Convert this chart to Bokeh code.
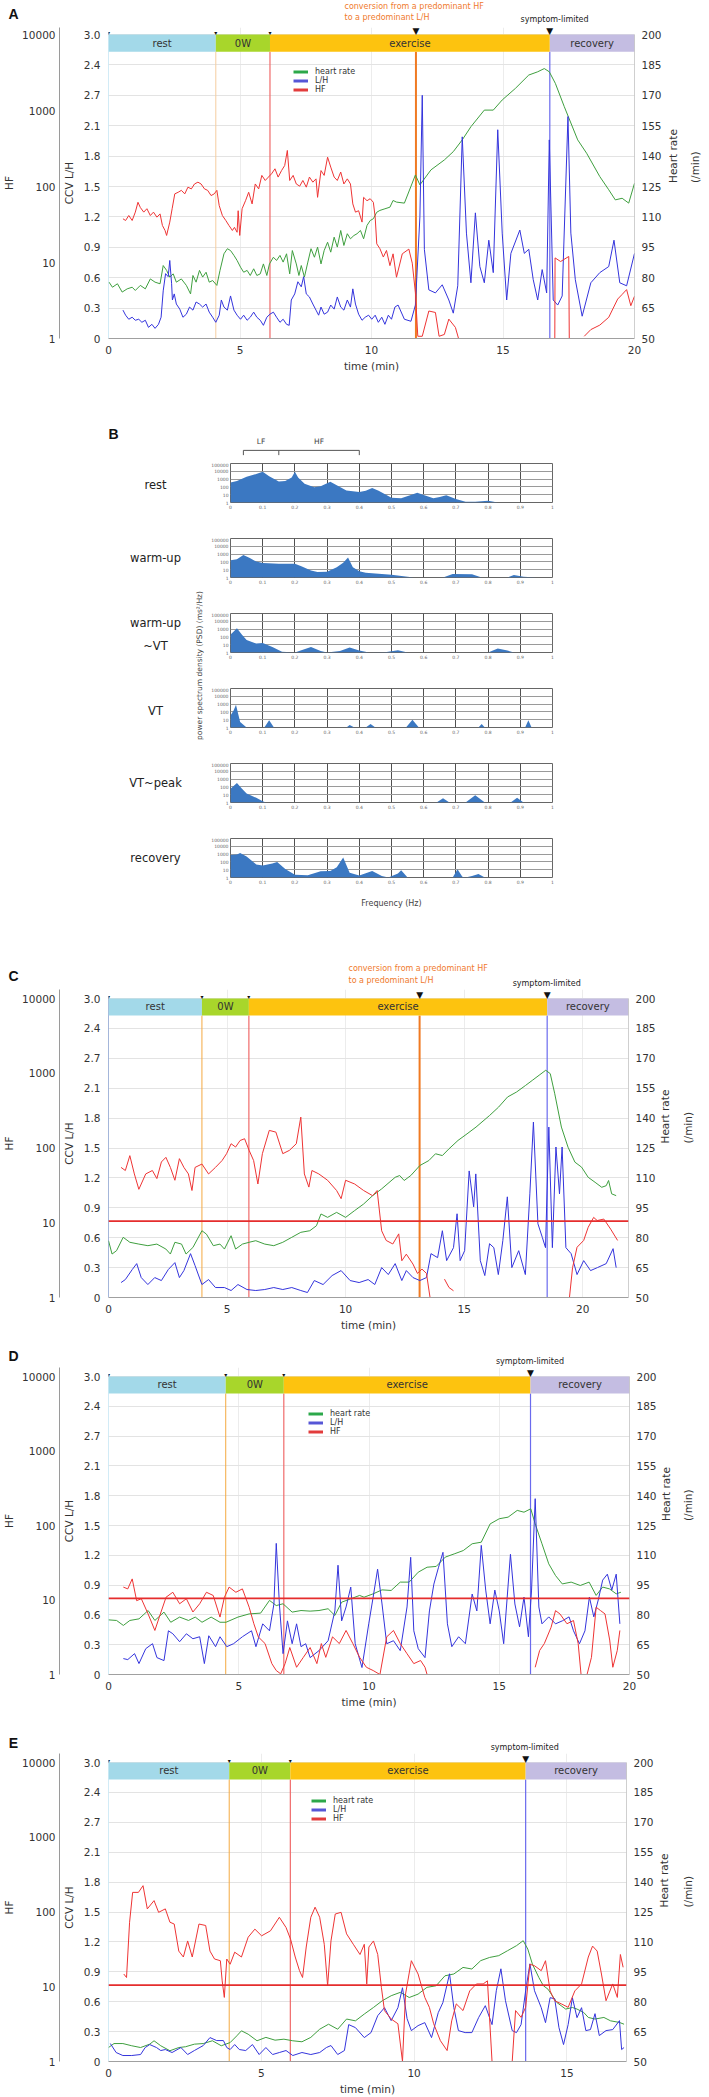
import numpy as np
from bokeh.plotting import figure
from bokeh.models import (Range1d, LinearAxis, LogAxis, LogScale, FixedTicker, Label,
                          Legend, LegendItem, Span)
from bokeh.layouts import column, row
from bokeh.embed import file_html
from bokeh.resources import INLINE
from bokeh.core.properties import value

FONT = "DejaVu Sans"
PAGE_W = 709

# ------------------------------------------------------------------ data
phase_names = ["rest", "0W", "exercise", "recovery"]
phase_colors = ["#a3d9e9", "#a8d62b", "#fdc30f", "#c4bde2"]

ccv_ticks = [0, 0.3, 0.6, 0.9, 1.2, 1.5, 1.8, 2.1, 2.4, 2.7, 3.0]
ccv_labels = ["0", "0.3", "0.6", "0.9", "1.2", "1.5", "1.8", "2.1", "2.7", "2.4", "3.0"]
hf_ticks = [1, 10, 100, 1000, 10000]
hf_labels = ["1", "10", "100", "1000", "10000"]
hr_ticks = [50, 65, 80, 95, 110, 125, 140, 155, 170, 185, 200]
hf_threshold = 10.5

# Panel A
A_edges = [0, 4.08, 6.14, 16.78, 20.0]
A_conversion = 11.69
A_hr = [(0.02,77.8),(0.15,75.3),(0.34,77.0),(0.52,72.9),(0.71,74.5),(0.90,75.3),(1.02,73.7),(1.21,76.2),
        (1.40,74.5),(1.59,79.4),(1.77,77.8),(1.96,77.0),(2.08,86.0),(2.21,83.6),(2.33,80.3),(2.46,81.9),
        (2.58,77.8),(2.77,79.4),(2.96,76.2),(3.12,72.0),(3.21,81.1),(3.33,77.8),(3.46,83.6),(3.58,80.3),
        (3.71,82.7),(3.83,77.8),(3.96,78.6),(4.12,76.2),(4.24,83.6),(4.39,91.8),(4.52,94.3),(4.64,93.4),
        (4.77,91.0),(4.89,88.5),(5.02,85.2),(5.14,82.7),(5.27,83.6),(5.39,81.1),(5.52,84.4),(5.64,81.1),
        (5.77,81.9),(5.89,86.8),(6.02,81.1),(6.12,86.8),(6.27,90.1),(6.39,88.5),(6.52,91.0),(6.64,87.7),
        (6.77,91.8),(6.89,81.9),(6.99,93.4),(7.14,86.8),(7.24,81.1),(7.33,86.0),(7.45,80.3),(7.58,87.7),
        (7.70,94.3),(7.83,90.1),(7.95,95.1),(8.08,86.8),(8.20,93.4),(8.33,97.5),(8.45,92.6),(8.58,100.0),
        (8.70,95.1),(8.83,103.3),(8.95,95.9),(9.08,101.7),(9.20,99.2),(9.33,100.8),(9.45,101.7),
        (9.58,103.3),(9.70,99.2),(9.83,105.8),(9.95,108.2),(10.07,109.1),(10.20,112.3),(10.32,113.2),
        (10.51,114.0),(10.70,114.8),(10.82,118.1),(10.95,117.3),(11.25,116.8),(11.67,130.7),(11.84,125.8),
        (12.26,133.2),(12.77,138.1),(13.11,142.2),(13.45,148.0),(13.78,154.5),(14.29,162.7),(14.63,162.7),
        (14.97,167.7),(15.47,173.4),(15.98,180.0),(16.32,181.6),(16.57,183.2),(16.76,181.6),(16.99,175.9),
        (17.33,164.4),(17.84,148.0),(18.18,141.4),(18.68,129.9),(19.02,123.4),(19.27,118.4),(19.53,119.2),
        (19.78,116.8),(20.00,126.6)]
A_lh = [(0.55,0.28),(0.65,0.23),(0.77,0.19),(0.90,0.21),(1.02,0.18),(1.15,0.19),(1.27,0.16),(1.40,0.18),
        (1.52,0.11),(1.65,0.14),(1.77,0.10),(1.90,0.14),(2.00,0.21),(2.08,0.47),(2.17,0.64),(2.27,0.61),
        (2.33,0.77),(2.40,0.54),(2.43,0.38),(2.50,0.44),(2.58,0.34),(2.71,0.29),(2.83,0.21),(2.96,0.24),
        (3.08,0.31),(3.21,0.28),(3.33,0.36),(3.46,0.34),(3.58,0.31),(3.71,0.34),(3.83,0.26),(3.96,0.21),
        (4.08,0.16),(4.21,0.23),(4.29,0.38),(4.39,0.31),(4.52,0.28),(4.64,0.42),(4.77,0.28),(4.89,0.23),
        (5.02,0.19),(5.14,0.23),(5.27,0.18),(5.39,0.21),(5.52,0.26),(5.64,0.21),(5.77,0.18),(5.89,0.13),
        (6.02,0.21),(6.14,0.24),(6.27,0.26),(6.39,0.21),(6.52,0.16),(6.64,0.19),(6.77,0.14),(6.87,0.13),
        (6.95,0.38),(7.08,0.44),(7.20,0.56),(7.33,0.51),(7.42,0.61),(7.52,0.44),(7.64,0.41),(7.77,0.34),
        (7.89,0.28),(7.99,0.23),(8.08,0.31),(8.20,0.24),(8.33,0.26),(8.45,0.33),(8.58,0.29),(8.70,0.41),
        (8.83,0.31),(8.95,0.28),(9.08,0.38),(9.20,0.31),(9.29,0.49),(9.39,0.34),(9.51,0.24),(9.64,0.18),
        (9.76,0.21),(9.89,0.23),(10.01,0.19),(10.14,0.23),(10.26,0.16),(10.39,0.21),(10.51,0.14),
        (10.64,0.23),(10.76,0.19),(10.89,0.31),(11.01,0.33),(11.25,0.19),(11.50,0.17),(11.67,0.33),
        (11.84,1.20),(11.93,2.40),(12.01,0.88),(12.18,0.48),(12.43,0.45),(12.69,0.53),(12.94,0.38),
        (13.11,0.25),(13.28,0.52),(13.45,1.99),(13.61,1.04),(13.78,0.55),(13.95,1.24),(14.12,0.71),
        (14.29,0.55),(14.46,0.97),(14.63,0.65),(14.80,2.06),(14.97,1.04),(15.14,0.38),(15.30,0.84),
        (15.64,1.07),(15.81,0.84),(15.98,0.88),(16.15,0.58),(16.32,0.38),(16.49,0.68),(16.66,0.45),
        (16.76,1.96),(16.91,0.38),(17.08,0.33),(17.25,0.42),(17.47,2.19),(17.58,1.04),(17.75,0.58),
        (18.01,0.22),(18.34,0.55),(18.68,0.65),(19.02,0.71),(19.22,0.97),(19.44,0.55),(19.70,0.52),
        (20.00,0.84)]
A_hf = [(0.55,37.6),(0.65,35.7),(0.77,41.5),(0.90,35.7),(1.02,46),(1.12,62),(1.21,53),(1.34,46),(1.46,51),
        (1.59,41.5),(1.71,46),(1.84,39.5),(1.96,43.6),(2.05,30.7),(2.15,26.4),(2.21,22.7),(2.33,34),(2.42,51),
        (2.52,80),(2.65,84),(2.77,89),(2.90,80),(3.02,98),(3.15,93),(3.27,108),(3.40,114),(3.52,108),
        (3.65,93),(3.77,89),(3.90,76),(4.02,80),(4.12,89),(4.21,56),(4.33,41.5),(4.46,35.7),(4.58,30.7),
        (4.71,26.4),(4.79,29),(4.89,25),(4.93,48),(4.99,22.7),(5.08,51),(5.21,65),(5.33,84),(5.46,59),
        (5.58,108),(5.71,93),(5.83,140),(5.96,120),(6.08,133),(6.20,147),(6.33,171),(6.45,133),(6.58,162),
        (6.70,189),(6.80,298),(6.89,120),(7.02,140),(7.14,108),(7.27,101),(7.39,120),(7.52,98),(7.64,133),
        (7.77,114),(7.89,126),(7.95,72),(8.08,162),(8.20,140),(8.33,243),(8.45,180),(8.58,133),(8.70,120),
        (8.83,155),(8.95,108),(9.08,126),(9.20,108),(9.29,59),(9.39,46),(9.51,48),(9.64,34),(9.70,72),
        (9.83,65),(9.95,69),(10.07,62),(10.14,39.5),(10.20,17.6),(10.32,15.2),(10.45,11.8),(10.57,14.4),
        (10.70,9.1),(10.82,13),(10.95,6.4),(11.17,13),(11.42,15),(11.55,9.8),(11.67,4.0),
        (11.76,1.07),(11.93,1.07),(12.18,2.3),(12.43,2.2),(12.57,1.07),(12.77,1.13),(12.94,1.8),
        (13.19,1.4),(13.31,1.0),(13.4,None),(16.97,1.0),(16.98,11.5),(17.19,10.3),(17.50,12),
        (17.52,1.0),(17.8,None),(18.09,1.07),(18.34,1.31),(18.68,1.5),(19.02,1.9),(19.36,3.3),
        (19.53,3.8),(19.70,4.4),(19.86,2.7),(20.00,3.6)]

# Panel B : power spectra (frequency Hz, PSD ms^2/Hz)
lf_band = [0.04, 0.15]
hf_band = [0.15, 0.40]
spec_rest = [(0,355),(0.02,560),(0.05,2000),(0.08,4500),(0.1,8700),(0.12,2240),(0.15,500),(0.17,560),
             (0.19,1580),(0.2,8700),(0.21,1580),(0.23,250),(0.26,90),(0.28,125),(0.31,450),(0.33,160),
             (0.36,35),(0.40,22),(0.42,32),(0.44,70),(0.46,32),(0.5,4),(0.53,3.5),(0.56,9),(0.58,18),
             (0.6,9),(0.63,3.5),(0.65,5),(0.67,8.5),(0.7,2.8),(0.73,1.25),(0.76,1.25),(0.8,1.7),(0.83,1)]
spec_warm = [(0,160),(0.02,220),(0.04,740),(0.06,320),(0.08,110),(0.1,70),(0.15,58),(0.2,56),(0.22,28),
             (0.25,8),(0.27,5),(0.3,5.6),(0.33,20),(0.35,80),(0.365,355),(0.38,20),(0.4,6.3),(0.42,4),
             (0.5,2.3),(0.55,1.25),(0.57,1),(0.66,1),(0.69,2.9),(0.75,2.6),(0.78,1),(0.86,1),(0.88,2.1),
             (0.91,1.25),(0.95,1)]
spec_warm_vt = [(0,200),(0.01,500),(0.02,1260),(0.035,200),(0.05,40),(0.08,14),(0.1,16),(0.13,5),
                (0.16,1.25),(0.2,1),(0.22,2),(0.25,5),(0.28,1.6),(0.3,1),(0.34,1.6),(0.37,4.5),(0.4,1.8),
                (0.43,1),(0.48,1.1),(0.52,1.9),(0.55,1),(0.8,1),(0.83,3.2),(0.86,1.8),(0.88,1)]
spec_vt = [(0,34),(0.01,160),(0.017,800),(0.03,5),(0.05,1),(0.105,1),(0.12,8.5),(0.135,1),(0.36,1),
           (0.37,2.1),(0.385,1),(0.42,1),(0.435,2.9),(0.45,1),(0.545,1),(0.565,10),(0.585,1),(0.77,1),
           (0.78,2.9),(0.79,1),(0.915,1),(0.925,8.5),(0.935,1),(1.0,1)]
spec_vt_peak = [(0,58),(0.02,320),(0.035,63),(0.05,14),(0.08,4),(0.1,1.4),(0.11,1),(0.64,1),(0.66,3.6),
                (0.68,1),(0.73,1),(0.76,8.5),(0.79,1),(0.87,1),(0.89,4),(0.91,1)]
spec_recovery = [(0,740),(0.02,890),(0.03,1400),(0.05,500),(0.08,47),(0.1,35),(0.13,63),(0.145,98),
                 (0.17,12.6),(0.2,2.3),(0.24,2),(0.28,6.3),(0.31,7),(0.33,20),(0.35,355),(0.37,4),
                 (0.4,1.8),(0.44,6.8),(0.47,1.6),(0.49,1),(0.52,3.2),(0.53,8.5),(0.55,1),(0.69,1),
                 (0.705,11.5),(0.72,1.25),(0.73,1),(0.75,1.6),(0.77,2.9),(0.79,1)]
spec_labels = [["rest"], ["warm-up"], ["warm-up", "~VT"], ["VT"], ["VT~peak"], ["recovery"]]
freq_ticks = [0, 0.1, 0.2, 0.3, 0.4, 0.5, 0.6, 0.7, 0.8, 0.9, 1.0]
freq_labels = ["0", "0.1", "0.2", "0.3", "0.4", "0.5", "0.6", "0.7", "0.8", "0.9", "1"]
psd_ticks = [1, 10, 100, 1000, 10000, 100000]
psd_labels = ["1", "10", "100", "1000", "10000", "100000"]

# Panel C
C_edges = [0, 3.94, 5.92, 18.5, 21.93]
C_conversion = 13.12
C_hr = [(0.00,78.5),(0.15,71.8),(0.34,73.5),(0.62,80.2),(0.90,77.7),(1.28,76.8),(1.66,76.0),(2.04,76.8),
        (2.42,74.3),(2.61,71.8),(2.80,77.7),(3.08,76.8),(3.27,71.8),(3.56,75.1),(3.94,83.5),(4.13,81.8),
        (4.42,76.0),(4.70,76.8),(4.89,74.3),(5.17,81.0),(5.36,74.3),(5.65,76.8),(5.93,77.7),(6.21,78.5),
        (6.59,76.8),(6.97,76.0),(7.35,77.7),(7.73,80.2),(8.11,82.7),(8.49,83.5),(8.77,86.0),(8.96,91.9),
        (9.24,90.2),(9.62,92.7),(10.00,90.2),(10.38,93.6),(10.76,96.9),(11.14,101.1),(11.52,104.5),
        (12.09,110.3),(12.28,111.2),(12.47,108.7),(12.75,111.2),(13.13,116.2),(13.51,118.7),(13.79,122.1),
        (14.08,121.2),(14.36,124.6),(14.74,128.8),(15.12,132.1),(15.50,135.5),(16.07,141.3),(16.45,145.5),
        (16.83,150.6),(17.21,153.1),(17.59,156.4),(17.87,158.9),(18.16,161.5),(18.44,164.0),(18.63,162.3),
        (18.82,152.2),(19.10,135.5),(19.38,125.4),(19.67,117.9),(19.95,115.4),(20.23,110.3),(20.52,107.8),
        (20.80,105.3),(20.99,106.1),(21.09,108.7),(21.22,102.0),(21.41,101.1)]
C_lh = [(0.53,0.15),(0.71,0.18),(1.00,0.28),(1.19,0.34),(1.38,0.20),(1.66,0.13),(1.95,0.20),(2.23,0.17),
        (2.52,0.28),(2.80,0.35),(2.99,0.20),(3.18,0.27),(3.46,0.44),(3.65,0.32),(3.94,0.13),(4.22,0.18),
        (4.51,0.10),(4.89,0.10),(5.17,0.07),(5.46,0.13),(5.84,0.08),(6.21,0.07),(6.59,0.08),(6.97,0.10),
        (7.35,0.08),(7.73,0.10),(8.11,0.07),(8.39,0.05),(8.68,0.17),(9.05,0.13),(9.43,0.22),(9.81,0.27),
        (10.19,0.17),(10.57,0.15),(10.95,0.18),(11.23,0.13),(11.52,0.30),(11.80,0.23),(12.09,0.34),
        (12.37,0.17),(12.56,0.27),(12.84,0.20),(13.13,0.17),(13.41,0.20),(13.60,0.44),(13.88,0.40),
        (14.08,0.67),(14.26,0.37),(14.55,0.50),(14.70,0.84),(14.83,0.37),(15.02,0.47),(15.21,1.27),
        (15.40,0.91),(15.49,1.24),(15.68,0.37),(15.87,0.22),(16.07,0.54),(16.25,0.50),(16.44,0.23),
        (16.63,0.57),(16.82,1.01),(17.01,0.30),(17.30,0.47),(17.58,0.23),(17.77,1.04),(17.92,1.76),
        (18.11,0.74),(18.30,0.60),(18.43,0.50),(18.57,1.71),(18.72,0.50),(18.87,1.51),(19.02,1.04),
        (19.13,1.51),(19.29,0.50),(19.51,0.44),(19.76,0.23),(20.04,0.37),(20.33,0.27),(20.62,0.30),
        (20.99,0.34),(21.28,0.49),(21.41,0.30)]
C_hf = [(0.53,55),(0.71,50),(0.90,79),(1.09,45),(1.28,28),(1.57,45),(1.85,50),(2.04,39),(2.23,65),
        (2.42,75),(2.61,55),(2.80,37),(2.99,72),(3.18,55),(3.37,45),(3.52,27),(3.65,55),(3.94,61),
        (4.22,45),(4.51,55),(4.79,68),(4.98,84),(5.17,114),(5.36,103),(5.55,126),(5.74,133),(5.93,93),
        (6.12,68),(6.30,33),(6.49,84),(6.78,172),(7.06,163),(7.35,84),(7.63,93),(7.92,114),(8.11,259),
        (8.26,45),(8.45,30),(8.58,50),(8.87,45),(9.24,37),(9.62,27),(9.81,21),(10.00,37),(10.38,33),
        (10.76,27),(11.14,23),(11.33,27),(11.52,7.8),(11.71,5.8),(11.99,5.2),(12.24,7.1),(12.37,3.1),
        (12.56,3.8),(12.84,2.8),(13.03,2.1),(13.22,2.4),(13.41,2.1),(13.56,1.0),(13.8,None),(14.17,1.76),
        (14.36,1.36),(14.55,1.23),(15.0,None),(19.44,1.0),(19.57,2.5),(19.76,4.7),(20.04,5.8),(20.23,8.7),
        (20.46,11.8),(20.61,10.7),(20.89,11.2),(21.18,8.2),(21.47,5.8)]

# Panel D
D_edges = [0, 4.5, 6.73, 16.2, 20.0]
D_hr = [(0.00,77.5),(0.31,77.2),(0.57,74.7),(0.82,77.2),(1.17,78.0),(1.52,82.2),(1.78,77.2),(2.13,81.4),
        (2.39,76.3),(2.73,78.9),(3.07,77.2),(3.33,78.9),(3.59,76.3),(3.94,78.9),(4.28,76.3),(4.51,76.3),
        (4.97,78.9),(5.40,80.5),(5.84,80.9),(6.18,87.3),(6.44,84.7),(6.70,85.6),(7.05,81.4),(7.39,82.2),
        (7.74,81.9),(8.08,82.2),(8.43,83.1),(8.69,79.7),(8.95,86.4),(9.30,88.1),(9.64,89.8),(9.81,88.9),
        (10.16,90.6),(10.50,92.6),(10.85,92.3),(11.20,96.5),(11.54,96.5),(11.89,101.5),(12.23,104.0),
        (12.58,104.4),(12.93,109.1),(13.27,110.7),(13.62,112.4),(13.96,115.8),(14.31,116.6),(14.65,125.8),
        (15.00,128.4),(15.34,129.2),(15.69,132.6),(15.95,131.7),(16.21,133.4),(16.38,125.8),(16.64,115.8),
        (16.90,105.7),(17.16,99.8),(17.42,95.6),(17.76,96.5),(18.11,94.8),(18.45,96.5),(18.72,89.8),
        (18.97,94.0),(19.23,93.1),(19.49,90.6),(19.67,91.4)]
D_lh = [(0.57,0.16),(0.74,0.15),(1.00,0.21),(1.17,0.11),(1.43,0.26),(1.69,0.31),(1.86,0.17),(2.13,0.14),
        (2.30,0.44),(2.47,0.41),(2.73,0.33),(2.99,0.41),(3.24,0.36),(3.50,0.38),(3.68,0.11),(3.85,0.39),
        (4.11,0.28),(4.28,0.38),(4.54,0.28),(4.80,0.31),(5.14,0.38),(5.49,0.44),(5.66,0.28),(5.92,0.51),
        (6.18,0.44),(6.35,0.71),(6.44,1.32),(6.56,0.71),(6.70,0.21),(6.87,0.54),(7.05,0.31),(7.22,0.51),
        (7.39,0.28),(7.57,0.31),(7.74,0.17),(8.08,0.24),(8.43,0.34),(8.69,0.64),(8.81,1.10),(8.95,0.54),
        (9.12,0.68),(9.30,0.88),(9.47,0.31),(9.73,0.07),(9.99,0.51),(10.16,0.78),(10.33,1.06),(10.50,0.71),
        (10.68,0.31),(10.94,0.34),(11.20,0.24),(11.46,0.68),(11.60,1.18),(11.72,0.44),(11.89,0.26),
        (12.15,0.17),(12.32,0.64),(12.49,0.91),(12.67,1.08),(12.84,1.23),(13.01,0.51),(13.18,0.28),
        (13.44,0.38),(13.70,0.31),(13.96,0.81),(14.14,0.64),(14.31,1.30),(14.48,0.85),(14.65,0.51),
        (14.83,0.85),(15.00,0.64),(15.17,0.31),(15.43,1.21),(15.60,0.71),(15.78,0.48),(15.95,0.78),
        (16.12,0.38),(16.24,0.85),(16.38,1.77),(16.52,0.68),(16.64,0.51),(16.90,0.58),(17.16,0.51),
        (17.42,0.54),(17.68,0.58),(17.85,0.44),(18.08,0.31),(18.29,0.44),(18.46,0.78),(18.63,0.58),
        (18.80,0.75),(18.97,0.95),(19.15,1.01),(19.32,0.85),(19.49,1.01),(19.63,0.51)]
D_hf = [(0.57,14.9),(0.74,14.1),(0.91,19.2),(1.08,9.8),(1.26,10.4),(1.52,6.5),(1.78,3.9),(1.95,5.9),
        (2.21,10.9),(2.47,12.7),(2.73,8.9),(2.99,10.4),(3.24,6.9),(3.50,8.9),(3.76,12.7),(4.02,11.5),
        (4.28,5.9),(4.45,10.9),(4.63,14.9),(4.89,12.7),(5.14,14.1),(5.40,8.0),(5.58,4.8),(5.75,3.2),
        (6.01,2.6),(6.27,1.4),(6.44,1.13),(6.61,1.02),(6.78,1.4),(6.96,2.3),(7.22,1.25),(7.48,1.7),
        (7.74,2.3),(8.00,1.4),(8.17,2.6),(8.34,1.7),(8.60,3.2),(8.86,2.6),(9.12,3.9),(9.38,2.6),(9.64,1.7),
        (9.90,1.25),(10.16,1.13),(10.42,1.0),(10.68,3.2),(10.94,3.9),(11.20,2.6),(11.46,1.9),(11.72,1.4),
        (11.98,1.54),(12.15,1.25),(12.23,1.0),(12.5,None),(16.38,1.25),(16.55,2.1),(16.73,2.6),(16.99,4.3),
        (17.16,7.2),(17.33,6.5),(17.60,4.8),(17.85,5.3),(18.03,2.6),(18.14,1.0),(18.25,None),(18.37,1.0),
        (18.54,1.7),(18.72,8.0),(18.89,7.2),(19.06,6.5),(19.24,2.9),(19.36,1.25),(19.53,2.1),(19.63,3.9)]

# Panel E
E_edges = [0, 3.95, 5.95, 13.65, 16.95]
E_hr = [(0.00,57.0),(0.18,59.0),(0.47,59.0),(0.76,57.9),(1.05,57.0),(1.35,58.7),(1.49,60.4),(1.71,57.9),
        (2.01,55.4),(2.30,57.0),(2.52,57.4),(2.81,58.7),(3.10,59.0),(3.40,60.4),(3.69,57.9),(3.98,59.5),
        (4.20,62.9),(4.35,65.4),(4.57,63.7),(4.86,60.4),(5.15,62.1),(5.45,60.7),(5.74,61.2),(6.03,60.4),
        (6.33,59.9),(6.62,62.1),(6.91,66.2),(7.20,68.7),(7.50,66.2),(7.79,71.3),(8.08,70.4),(8.37,73.8),
        (8.67,77.1),(8.96,80.5),(9.25,83.0),(9.55,84.7),(9.84,82.1),(10.13,83.8),(10.42,87.2),(10.72,88.0),
        (11.01,93.0),(11.30,93.9),(11.60,97.2),(11.89,96.4),(12.18,100.6),(12.47,102.2),(12.77,103.1),
        (13.06,105.6),(13.35,108.1),(13.57,110.6),(13.72,106.4),(13.87,98.9),(14.08,92.2),(14.23,88.0),
        (14.38,86.3),(14.67,79.6),(14.96,76.3),(15.18,77.1),(15.33,76.3),(15.55,74.6),(15.70,72.1),
        (15.92,71.3),(16.21,72.1),(16.43,70.4),(16.72,69.6),(16.87,68.7)]
E_lh = [(0.06,0.18),(0.25,0.09),(0.47,0.06),(0.76,0.06),(1.05,0.07),(1.20,0.14),(1.35,0.17),(1.57,0.14),
        (1.71,0.11),(1.86,0.12),(2.08,0.09),(2.37,0.14),(2.59,0.07),(2.81,0.11),(3.10,0.16),(3.32,0.24),
        (3.54,0.21),(3.76,0.21),(3.87,0.14),(3.98,0.12),(4.13,0.17),(4.28,0.12),(4.49,0.11),(4.71,0.17),
        (4.93,0.07),(5.15,0.14),(5.37,0.07),(5.59,0.09),(5.81,0.11),(6.03,0.06),(6.33,0.09),(6.62,0.07),
        (6.91,0.09),(7.13,0.14),(7.28,0.16),(7.50,0.07),(7.72,0.11),(7.86,0.37),(8.08,0.34),(8.37,0.24),
        (8.59,0.29),(8.81,0.46),(9.03,0.54),(9.25,0.41),(9.47,0.54),(9.62,0.74),(9.77,0.43),(9.91,0.31),
        (10.13,0.36),(10.35,0.39),(10.57,0.24),(10.79,0.49),(10.94,0.59),(11.16,0.88),(11.30,0.54),
        (11.45,0.31),(11.67,0.29),(11.89,0.29),(12.11,0.44),(12.33,0.56),(12.55,0.37),(12.69,0.71),
        (12.84,0.93),(12.99,0.61),(13.21,0.31),(13.35,0.29),(13.50,0.37),(13.65,0.71),(13.79,0.98),
        (13.94,0.71),(14.16,0.54),(14.30,0.39),(14.45,0.64),(14.60,0.63),(14.74,0.34),(14.89,0.17),
        (15.04,0.37),(15.18,0.64),(15.33,0.44),(15.48,0.54),(15.62,0.31),(15.77,0.32),(15.92,0.48),
        (16.06,0.26),(16.28,0.31),(16.50,0.32),(16.72,0.41),(16.79,0.12),(16.87,0.14)]
E_hf = [(0.50,14.8),(0.59,13.3),(0.69,73),(0.79,183),(0.98,183),(1.13,225),(1.27,110),(1.49,142),(1.64,99),
        (1.86,110),(2.01,73),(2.15,69),(2.30,30),(2.45,25),(2.59,41),(2.74,25),(2.96,69),(3.18,66),(3.32,30),
        (3.47,23.5),(3.66,22.3),(3.72,12),(3.79,7.2),(3.87,23.5),(3.98,20),(4.13,29),(4.35,25),(4.57,46),
        (4.79,59),(5.01,48),(5.30,56),(5.59,85),(5.81,62),(5.96,43),(6.11,25),(6.25,16.4),(6.35,13.3),
        (6.47,34),(6.62,85),(6.76,116),(6.91,85),(7.06,37),(7.17,10.3),(7.28,41),(7.42,94),(7.61,99),
        (7.79,51),(8.01,37),(8.23,27),(8.37,37),(8.45,10.9),(8.52,34),(8.67,41),(8.81,27),(8.93,9.8),
        (9.03,4.8),(9.25,3.7),(9.47,3.2),(9.62,1.0),(9.72,8.0),(9.91,22.3),(10.13,14.8),(10.35,7.2),
        (10.50,5.3),(10.64,3.2),(10.86,1.9),(11.08,1.4),(11.23,3.5),(11.38,5.9),(11.60,4.8),(11.82,8.8),
        (12.04,10.9),(12.26,10.9),(12.40,12),(12.55,1.0),(12.9,None),(13.21,1.0),(13.32,4.8),(13.50,3.9),
        (13.65,5.3),(13.79,20),(13.94,19.1),(14.16,16.4),(14.30,22.3),(14.45,8.8),(14.60,6.5),(14.82,5.9),
        (15.04,5.3),(15.26,8.8),(15.48,10.9),(15.70,25),(15.84,35),(15.99,30),(16.13,14.8),(16.28,6.5),
        (16.50,10.9),(16.65,7.2),(16.75,27),(16.84,18.2)]

GREEN, BLUE, RED = "#3f9f3f", "#3434dc", "#ee3434"
LEG_GREEN, LEG_BLUE, LEG_RED = "#2ca84a", "#5656d6", "#e23c3c"


def xy(pairs):
    t = np.array([p[0] for p in pairs], dtype=float)
    v = np.array([np.nan if p[1] is None else p[1] for p in pairs], dtype=float)
    return t, v


def no_align(f):
    if "frame_align" in f.properties():
        f.frame_align = False
    return f


def style_axis(ax, size="10.5px"):
    ax.major_tick_out = 0
    ax.major_tick_in = 0
    ax.minor_tick_out = 0
    ax.minor_tick_in = 0
    ax.major_label_text_font = FONT
    ax.major_label_text_font_size = size
    ax.major_label_text_color = "#333333"
    ax.axis_label_text_font = FONT
    ax.axis_label_text_font_size = size
    ax.axis_label_text_font_style = "normal"
    ax.axis_label_text_color = "#333333"
    ax.axis_line_color = "#a0a0a0"


def orient_up(ax):
    if "axis_label_orientation" in ax.properties():
        ax.axis_label_orientation = np.pi / 2


def text_fig(width, height, x0, x1, ytop, ybot):
    f = figure(width=width, height=height, output_backend="svg", toolbar_location=None,
               x_range=Range1d(x0, x1), y_range=Range1d(ybot, ytop),
               x_axis_location=None, y_axis_location=None,
               min_border_left=0, min_border_right=0, min_border_top=0, min_border_bottom=0)
    f.outline_line_color = None
    f.grid.visible = False
    return no_align(f)


def add_label(f, x, y, text, size, color="#222222", align="center", style="normal", angle=0.0,
              font=FONT):
    f.add_layout(Label(x=x, y=y, text=text, text_font=font, text_font_size=f"{size}px",
                       text_color=color, text_align=align, text_baseline="middle",
                       text_font_style=style, angle=angle))


def build_panel(cfg):
    top, H, fl, fr, ft, fb = cfg["geom"]
    hs = cfg["strip"]
    edges = cfg["edges"]
    x_end = edges[-1]
    mtop = top + hs
    ext = ft - mtop
    span = fb - ft
    y_end = 3.0 + ext * 3.0 / span
    hf_end = 10 ** (4 + ext * 4.0 / span)
    hr_end = 200 + ext * 150.0 / span

    def px_of(t):
        return fl + t / x_end * (fr - fl)

    strip = text_fig(PAGE_W, hs, 0, PAGE_W, top, mtop)
    lx, ly = cfg["letter_px"]
    add_label(strip, lx, ly, cfg["letter"], 14, color="#111111", style="bold", font="Liberation Sans")
    add_label(strip, px_of(edges[3]), cfg["symptom_y"], "symptom-limited", 8)
    if cfg.get("conversion") is not None:
        ax0, ay0, ay1 = cfg["conv_text"]
        add_label(strip, ax0, ay0, "conversion from a predominant HF", 8, color="#f07a2c", align="left")
        add_label(strip, ax0, ay1, "to a predominant L/H", 8, color="#f07a2c", align="left")

    p = figure(width=PAGE_W, height=H - hs, output_backend="svg", toolbar_location=None,
               x_range=Range1d(0, x_end), y_range=Range1d(0, y_end),
               extra_y_ranges={"hf": Range1d(1, hf_end), "hr": Range1d(50, hr_end)},
               extra_y_scales={"hf": LogScale()},
               min_border_left=fl, min_border_right=PAGE_W - fr,
               min_border_top=0, min_border_bottom=top + H - fb)
    no_align(p)
    p.outline_line_color = None

    def dy(py):
        return (fb - py) / span * 3.0

    xa = p.xaxis[0]
    style_axis(xa)
    xa.ticker = FixedTicker(ticks=cfg["xticks"])
    xa.axis_label = "time (min)"
    xa.major_label_standoff = cfg.get("xstand", 7)
    xa.axis_label_standoff = cfg.get("xlstand", 3)

    ya = p.yaxis[0]
    style_axis(ya)
    ya.ticker = FixedTicker(ticks=ccv_ticks)
    ya.major_label_overrides = dict(zip(ccv_ticks, ccv_labels))
    ya.axis_label = "CCV L/H"
    ya.major_label_standoff = 8
    ya.axis_label_standoff = 6
    ya.axis_line_color = None

    hfa = LogAxis(y_range_name="hf", ticker=FixedTicker(ticks=hf_ticks), axis_label="HF")
    style_axis(hfa)
    hfa.major_label_overrides = dict(zip(hf_ticks, hf_labels))
    hfa.major_label_standoff = 4
    hfa.axis_label_standoff = 4
    hfa.axis_line_color = "#9a9a9a"
    p.add_layout(hfa, "left")

    s1, s2 = cfg["right_stand"]
    hra = LinearAxis(y_range_name="hr", ticker=FixedTicker(ticks=hr_ticks), axis_label="Heart rate")
    style_axis(hra)
    hra.axis_line_color = None
    hra.major_label_standoff = 7
    hra.axis_label_standoff = int(s1)
    orient_up(hra)
    p.add_layout(hra, "right")
    unit = LinearAxis(y_range_name="hr", ticker=FixedTicker(ticks=[]), axis_label="(/min)")
    style_axis(unit)
    unit.axis_line_color = None
    unit.axis_label_standoff = int(s2)
    orient_up(unit)
    p.add_layout(unit, "right")

    p.xgrid.ticker = FixedTicker(ticks=cfg["xticks"])
    p.xgrid.grid_line_color = "#ececec"
    p.ygrid.ticker = FixedTicker(ticks=ccv_ticks)
    p.ygrid.grid_line_color = "#e3e3e3"

    bar_bottom = 2.83
    p.segment(x0=[0], x1=[0], y0=0, y1=3.0, line_color=cfg["left_line"], line_width=1)
    vx = [edges[1], edges[2], edges[3]]
    vc = [cfg["first_line"], "#f06a6a", "#6a6aee"]
    vw = [1.0, 1.2, 1.2]
    if cfg.get("conversion") is not None:
        vx.append(cfg["conversion"])
        vc.append("#f07a22")
        vw.append(2.0)
    p.segment(x0=vx, x1=vx, y0=0, y1=bar_bottom, line_color=vc, line_width=vw)

    t, v = xy(cfg["hr"])
    p.line(t, v, y_range_name="hr", line_color=GREEN, line_width=1)
    t, v = xy(cfg["lh"])
    p.line(t, v, line_color=BLUE, line_width=1)
    t, v = xy(cfg["hf"])
    p.line(t, v, y_range_name="hf", line_color=RED, line_width=1)

    if cfg.get("threshold"):
        p.add_layout(Span(location=hf_threshold, dimension="width", y_range_name="hf",
                          line_color="#e52d2d", line_width=1.6))

    p.quad(left=edges[:-1], right=edges[1:], bottom=bar_bottom, top=3.0,
           fill_color=phase_colors, line_color=None)
    p.segment(x0=[x_end], x1=[x_end], y0=0, y1=3.0, line_color="#a0a0a0", line_width=1)
    mids = [(a + b) / 2 for a, b in zip(edges[:-1], edges[1:])]
    p.text(x=mids, y=(bar_bottom + 3.0) / 2, text=phase_names, text_align="center",
           text_baseline="middle", text_font=value(FONT), text_font_size="10px",
           text_color="#333333")

    for e in edges[:3]:
        add_label(p, e, dy(ft - 2), "▾", 6, color="#111111")
    add_label(p, edges[3], dy(ft - 3.5), "▼", 9, color="#111111")
    if cfg.get("conversion") is not None:
        add_label(p, cfg["conversion"], dy(ft - 3.5), "▼", 9, color="#111111")

    if cfg.get("legend") is not None:
        items = []
        for name, col in [("heart rate", LEG_GREEN), ("L/H", LEG_BLUE), ("HF", LEG_RED)]:
            r = p.line(x=[0.0], y=[np.nan], line_color=col, line_width=3)
            items.append(LegendItem(label=name, renderers=[r]))
        lg = Legend(items=items, location=cfg["legend"], glyph_width=15, glyph_height=9,
                    label_height=9, label_standoff=7, spacing=0, padding=0, margin=0,
                    border_line_color=None, background_fill_alpha=0,
                    label_text_font=FONT, label_text_font_size="8px", label_text_color="#333333")
        p.add_layout(lg)
    return column(strip, p, spacing=0)


figA = build_panel(dict(letter="A", geom=(0, 390, 106, 640, 34, 338), strip=27, edges=A_edges,
                        xticks=[0, 5, 10, 15, 20], conversion=A_conversion, hr=A_hr, lh=A_lh, hf=A_hf,
                        left_line="#a6d8ee", first_line="#f6cda0", letter_px=(13, 13),
                        symptom_y=19, conv_text=(344, 6, 17), right_stand=(8, 7),
                        legend=(185, 244)))
figC = build_panel(dict(letter="C", geom=(950, 390, 105, 628, 998, 1297), strip=39, edges=C_edges,
                        xticks=[0, 5, 10, 15, 20], conversion=C_conversion, hr=C_hr, lh=C_lh, hf=C_hf,
                        left_line="#4a6fb5", first_line="#f4a940", letter_px=(13, 975),
                        symptom_y=983, conv_text=(348, 968, 980), right_stand=(6, 8),
                        threshold=True))
figD = build_panel(dict(letter="D", geom=(1340, 385, 105, 629, 1376, 1674), strip=27, edges=D_edges,
                        xticks=[0, 5, 10, 15, 20], conversion=None, hr=D_hr, lh=D_lh, hf=D_hf,
                        left_line="#a6d8ee", first_line="#f4a940", letter_px=(13, 1355),
                        symptom_y=1361, right_stand=(6, 7), threshold=True, legend=(200, 238)))
figE = build_panel(dict(letter="E", geom=(1725, 372, 103, 626, 1762, 2061), strip=28, edges=E_edges,
                        xticks=[0, 5, 10, 15], conversion=None, hr=E_hr, lh=E_lh, hf=E_hf,
                        left_line="#a6d8ee", first_line="#f4a940", letter_px=(13, 1742),
                        symptom_y=1747, right_stand=(7, 9), threshold=True, legend=(203, 238)))

# ------------------------------------------------------------------ panel B
B_H = 560
B_LW = 208
B_left = text_fig(B_LW, B_H, 0, B_LW, B_H, 0)
add_label(B_left, 113, 517, "B", 14, style="bold", color="#111111", font="Liberation Sans")
label_rows = [(466,), (393,), (328, 305), (240,), (168,), (93,)]
for names, ys in zip(spec_labels, label_rows):
    for name, yy in zip(names, ys):
        add_label(B_left, 155, yy, name, 11.5)
add_label(B_left, 199, 285, "power spectrum density (PSD) (ms²/Hz)", 7.5, angle=np.pi / 2,
          color="#444444")

B_RW = PAGE_W - B_LW
SUB_L, SUB_R = 22, B_RW - 22 - 322
bracket = figure(width=B_RW, height=72, output_backend="svg", toolbar_location=None,
                 x_range=Range1d(0, 1), y_range=Range1d(0, 1),
                 x_axis_location=None, y_axis_location=None,
                 min_border_left=SUB_L, min_border_right=SUB_R, min_border_top=40, min_border_bottom=4)
no_align(bracket)
bracket.outline_line_color = None
bracket.grid.visible = False
bx = [lf_band[0], lf_band[1], hf_band[1]]
bracket.segment(x0=[lf_band[0]], x1=[hf_band[1]], y0=0.29, y1=0.29, line_color="#555555")
bracket.segment(x0=bx, x1=bx, y0=0.29, y1=0.12, line_color="#555555")
bracket.text(x=[sum(lf_band) / 2, sum(hf_band) / 2], y=0.6, text=["LF", "HF"],
             text_align="center", text_baseline="middle", text_font=value(FONT),
             text_font_size="7.5px", text_color="#444444")


def spectrum_fig(pairs, H, xlabel=None):
    f, psd = xy(pairs)
    s = figure(width=B_RW, height=H, output_backend="svg", toolbar_location=None,
               x_range=Range1d(0, 1), y_range=Range1d(1, 100000), y_axis_type="log",
               min_border_left=SUB_L, min_border_right=SUB_R, min_border_top=1,
               min_border_bottom=H - 40)
    no_align(s)
    s.varea(x=f, y1=1, y2=psd, fill_color="#3b78c2")
    s.outline_line_color = "#666666"
    s.xgrid.ticker = FixedTicker(ticks=freq_ticks)
    s.xgrid.grid_line_color = "#505050"
    s.ygrid.ticker = FixedTicker(ticks=psd_ticks)
    s.ygrid.grid_line_color = "#9a9a9a"
    for ax in (s.xaxis[0], s.yaxis[0]):
        style_axis(ax, size="4.5px")
        ax.axis_line_color = None
        ax.major_label_text_color = "#666666"
        ax.major_label_standoff = 2
    s.xaxis[0].ticker = FixedTicker(ticks=freq_ticks)
    s.xaxis[0].major_label_overrides = dict(zip(freq_ticks, freq_labels))
    s.yaxis[0].ticker = FixedTicker(ticks=psd_ticks)
    s.yaxis[0].major_label_overrides = dict(zip(psd_ticks, psd_labels))
    if xlabel:
        s.xaxis[0].axis_label = xlabel
        s.xaxis[0].axis_label_text_font_size = "8px"
        s.xaxis[0].axis_label_text_color = "#444444"
        s.xaxis[0].axis_label_standoff = 12
    return s


spectra = [spec_rest, spec_warm, spec_warm_vt, spec_vt, spec_vt_peak, spec_recovery]
subs = [spectrum_fig(sp, 75) for sp in spectra[:-1]]
subs.append(spectrum_fig(spectra[-1], 113, xlabel="Frequency (Hz)"))
B_right = column(bracket, *subs, spacing=0)
rowB = row(B_left, B_right, spacing=0)

page = column(figA, rowB, figC, figD, figE, spacing=0)
open("out.html", "w").write(file_html(page, INLINE))
